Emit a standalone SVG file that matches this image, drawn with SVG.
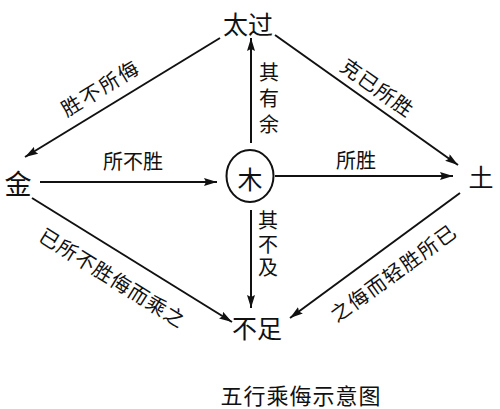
<svg xmlns="http://www.w3.org/2000/svg" width="500" height="409" viewBox="0 0 500 409">
<style>
text{font-family:"Noto Sans CJK SC","Noto Sans CJK JP",sans-serif;fill:#111;text-anchor:middle;dominant-baseline:central}
.node{font-size:25px}
.lbl{font-size:20px}
.vert{writing-mode:vertical-rl;text-orientation:upright}
.cap{font-size:22px;letter-spacing:1px}
.edge{stroke:#111;stroke-width:2;fill:none;marker-end:url(#arr)}
</style>
<defs>
<marker id="arr" markerUnits="userSpaceOnUse" markerWidth="14" markerHeight="8" refX="13" refY="4" orient="auto">
<path d="M0,0 L13,4 L0,8 L2,4 z" fill="#111"/>
</marker>
</defs>
<rect width="500" height="409" fill="#fff"/>
<g id="connectors">
<line class="edge" x1="251" y1="143" x2="251" y2="38"/>
<line class="edge" x1="251" y1="210" x2="251" y2="308"/>
<line class="edge" x1="40" y1="182" x2="217" y2="182"/>
<line class="edge" x1="275" y1="176" x2="453" y2="176"/>
<line class="edge" x1="220" y1="38" x2="25" y2="157"/>
<line class="edge" x1="275" y1="35" x2="458" y2="165"/>
<line class="edge" x1="32" y1="198" x2="232" y2="322"/>
<line class="edge" x1="460" y1="193" x2="290" y2="318"/>
</g>
<g id="node-taiguo"><text class="node" x="248" y="23">太过</text></g>
<g id="node-jin"><text class="node" x="18" y="182" style="font-size:27px">金</text></g>
<g id="node-tu"><text class="node" x="481" y="176">土</text></g>
<g id="node-buzu"><text class="node" x="257" y="327">不足</text></g>
<g id="node-mu">
<ellipse cx="250" cy="176" rx="23.5" ry="26" fill="#fff" stroke="#111" stroke-width="2"/>
<text class="node" x="250" y="178">木</text>
</g>
<g id="labels">
<text class="lbl vert" x="269" y="101" style="letter-spacing:6px">其有余</text>
<text class="lbl vert" x="268" y="246" style="letter-spacing:3.5px">其不及</text>
<text class="lbl" x="133" y="160">所不胜</text>
<text class="lbl" x="356" y="159">所胜</text>
<text class="lbl" x="100" y="87" transform="rotate(-31.4 100 87)" style="letter-spacing:2px">胜不所侮</text>
<text class="lbl" x="378" y="87" transform="rotate(35.4 378 87)" style="letter-spacing:1px">克已所胜</text>
<text class="lbl" x="113" y="277" transform="rotate(32 113 277)" style="letter-spacing:1px">已所不胜侮而乘之</text>
<text class="lbl" x="393" y="272" transform="rotate(-36 393 272)" style="letter-spacing:1.5px">之侮而轻胜所已</text>
</g>
<g id="caption"><text class="cap" x="301" y="394">五行乘侮示意图</text></g>
</svg>
